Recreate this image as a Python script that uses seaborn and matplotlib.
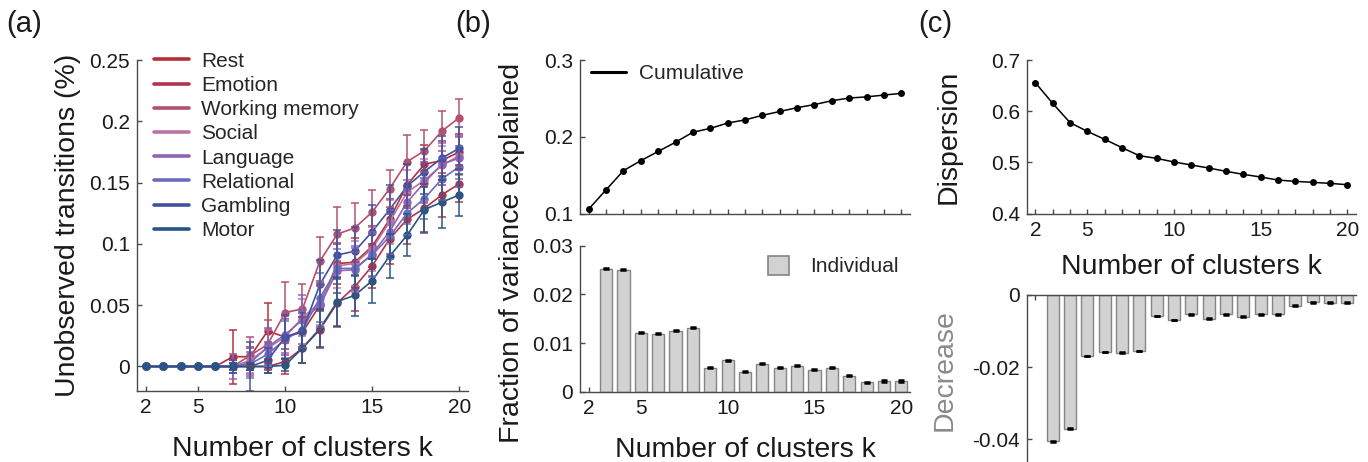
import numpy as np
import pandas as pd
import matplotlib
matplotlib.use("Agg")
import matplotlib.pyplot as plt
from matplotlib.lines import Line2D
from matplotlib.patches import Patch
from matplotlib.ticker import FuncFormatter
import seaborn as sns

# ---------------- data ----------------
ks = list(range(2, 21))

conditions = ["Rest", "Emotion", "Working memory", "Social", "Language",
              "Relational", "Gambling", "Motor"]
cond_colors = ["#b3303a", "#b0344c", "#b2506f", "#b874a6", "#9262b4",
               "#6b6dbc", "#3f52a0", "#275683"]

rest = [0, 0, 0, 0, 0, 0.008, 0.008, 0.029, 0.024, 0.028, 0.05, 0.084, 0.085, 0.098, 0.12, 0.148, 0.165, 0.168, 0.175]
emotion = [0, 0, 0, 0, 0, 0, 0, 0, 0.004, 0.015, 0.03, 0.052, 0.065, 0.082, 0.104, 0.12, 0.129, 0.14, 0.149]
working_memory = [0, 0, 0, 0, 0, 0, 0.009, 0.018, 0.044, 0.047, 0.086, 0.108, 0.113, 0.126, 0.145, 0.167, 0.176, 0.192, 0.203]
social = [0, 0, 0, 0, 0, 0, 0.005, 0.015, 0.024, 0.04, 0.052, 0.082, 0.084, 0.096, 0.118, 0.142, 0.152, 0.164, 0.172]
language = [0, 0, 0, 0, 0, 0, 0.003, 0.016, 0.026, 0.038, 0.05, 0.078, 0.079, 0.092, 0.11, 0.134, 0.15, 0.165, 0.17]
relational = [0, 0, 0, 0, 0, 0, 0.002, 0.01, 0.022, 0.03, 0.056, 0.08, 0.08, 0.091, 0.106, 0.125, 0.137, 0.153, 0.163]
gambling = [0, 0, 0, 0, 0, 0, 0, 0.005, 0.024, 0.029, 0.067, 0.091, 0.094, 0.11, 0.128, 0.147, 0.159, 0.17, 0.178]
motor = [0, 0, 0, 0, 0, 0, 0, 0, 0.001, 0.015, 0.031, 0.053, 0.058, 0.07, 0.09, 0.107, 0.128, 0.134, 0.14]

rest_err = [0, 0, 0, 0, 0, 0.022, 0.008, 0.023, 0.015, 0.012, 0.02, 0.017, 0.02, 0.017, 0.017, 0.017, 0.016, 0.016, 0.015]
emotion_err = [0, 0, 0, 0, 0, 0.003, 0.003, 0.003, 0.01, 0.012, 0.015, 0.02, 0.02, 0.018, 0.02, 0.02, 0.02, 0.018, 0.015]
working_memory_err = [0, 0, 0, 0, 0, 0.005, 0.015, 0.02, 0.025, 0.02, 0.02, 0.022, 0.02, 0.018, 0.015, 0.022, 0.017, 0.016, 0.015]
social_err = [0, 0, 0, 0, 0, 0.005, 0.01, 0.015, 0.015, 0.015, 0.018, 0.018, 0.018, 0.018, 0.018, 0.018, 0.017, 0.016, 0.016]
language_err = [0, 0, 0, 0, 0, 0.01, 0.012, 0.015, 0.015, 0.02, 0.018, 0.018, 0.018, 0.018, 0.018, 0.018, 0.017, 0.017, 0.017]
relational_err = [0, 0, 0, 0, 0, 0.005, 0.01, 0.01, 0.015, 0.015, 0.02, 0.02, 0.018, 0.018, 0.018, 0.018, 0.017, 0.017, 0.017]
gambling_err = [0, 0, 0, 0, 0, 0.005, 0.02, 0.01, 0.018, 0.015, 0.02, 0.02, 0.02, 0.022, 0.02, 0.018, 0.018, 0.018, 0.017]
motor_err = [0, 0, 0, 0, 0, 0.003, 0.003, 0.005, 0.005, 0.012, 0.015, 0.02, 0.017, 0.018, 0.018, 0.017, 0.018, 0.021, 0.017]

series_vals = [rest, emotion, working_memory, social, language, relational, gambling, motor]
series_errs = [rest_err, emotion_err, working_memory_err, social_err, language_err,
               relational_err, gambling_err, motor_err]

cumulative = [0.106, 0.131, 0.156, 0.169, 0.181, 0.193, 0.206, 0.211, 0.218, 0.222,
              0.228, 0.233, 0.238, 0.242, 0.247, 0.2505, 0.252, 0.2544, 0.2566]
individual = [np.nan, 0.0253, 0.0251, 0.0121, 0.0119, 0.0125, 0.0131, 0.0049, 0.0065, 0.0041,
              0.0057, 0.0049, 0.0053, 0.0045, 0.0049, 0.0033, 0.0019, 0.0022, 0.0022]
individual_err = [0, 0.0001, 0.0001, 0.0001, 0.0001, 0.0001, 0.0001, 0.0001, 0.0001, 0.0001,
                  0.0001, 0.0001, 0.0001, 0.0001, 0.0001, 0.0001, 0.0001, 0.0002, 0.0002]

dispersion = [0.6557, 0.6154, 0.5777, 0.5607, 0.5451, 0.5289, 0.5132, 0.508, 0.5009, 0.495,
              0.4892, 0.4827, 0.4768, 0.4716, 0.4657, 0.4631, 0.4612, 0.4592, 0.4566]
decrease = [np.nan, -0.0406, -0.0371, -0.0169, -0.0158, -0.0160, -0.0155, -0.0058, -0.0069, -0.0054,
            -0.0066, -0.0054, -0.0060, -0.0054, -0.0054, -0.0030, -0.0020, -0.0021, -0.0021]
decrease_err = [0, 0.0001, 0.0001, 0.0001, 0.0001, 0.0001, 0.0001, 0.0001, 0.0001, 0.0001,
                0.0001, 0.0001, 0.0001, 0.0001, 0.0001, 0.0001, 0.0001, 0.0002, 0.0002]

label_ticks = [2, 5, 10, 15, 20]

# ---------------- style ----------------
sns.set_theme(style="ticks")
plt.rcParams["font.family"] = ["Liberation Sans", "DejaVu Sans"]
plt.rcParams["axes.unicode_minus"] = False
SPINE = "#4a4a4a"
TXT = "#1a1a1a"
TICK_FS = 15
LAB_FS = 20.5

fig = plt.figure(figsize=(13.68, 4.62), dpi=100)
W, H = 1368.0, 462.0


def add_axes(left, top, right, bottom):
    return fig.add_axes([left / W, 1 - bottom / H, (right - left) / W, (bottom - top) / H])


def style_axes(ax):
    sns.despine(ax=ax)
    for s in ax.spines.values():
        s.set_color(SPINE)
        s.set_linewidth(1.0)
    ax.tick_params(direction="in", length=3.5, width=1.0, color=SPINE,
                   labelsize=TICK_FS, labelcolor=TXT, pad=5)
    ax.yaxis.set_major_formatter(FuncFormatter(lambda v, p: f"{v:g}"))


def int_ticks_with_labels(ax):
    ax.set_xticks(ks)
    ax.set_xticklabels([str(k) if k in label_ticks else "" for k in ks])


# ---------------- panel a ----------------
axa = add_axes(137, 60, 468, 391)
rows = []
for name, vals in zip(conditions, series_vals):
    for k, v in zip(ks, vals):
        rows.append({"k": k, "value": v, "condition": name})
dfa = pd.DataFrame(rows)
sns.lineplot(data=dfa, x="k", y="value", hue="condition", hue_order=conditions,
             palette=cond_colors, marker="o", markersize=6, markeredgewidth=0,
             linewidth=1.2, legend=False, ax=axa)
for vals, errs, c in zip(series_vals, series_errs, cond_colors):
    axa.errorbar(ks, vals, yerr=errs, fmt="none", ecolor=c, elinewidth=1.2,
                 capsize=3, capthick=1.2, alpha=0.9)
axa.set_xlim(1.5, 20.5)
axa.set_ylim(-0.02, 0.25)
style_axes(axa)
axa.set_xticks(label_ticks)
axa.set_yticks([0, 0.05, 0.1, 0.15, 0.2, 0.25])
axa.set_xlabel("Number of clusters k", fontsize=LAB_FS, color=TXT, labelpad=14)
axa.set_ylabel("Unobserved transitions (%)", fontsize=LAB_FS, color=TXT, labelpad=6)
handles = [Line2D([0], [0], color=c, lw=2.6) for c in cond_colors]
axa.legend(handles, conditions, loc="upper left", bbox_to_anchor=(0.05, 1.025),
           frameon=False, fontsize=TICK_FS, handlelength=1.7, handletextpad=0.6,
           labelspacing=0.25, borderpad=0, borderaxespad=0)

# ---------------- panel b ----------------
axb1 = add_axes(580, 60, 910, 213.7)
sns.lineplot(x=ks, y=cumulative, color="black", marker="o", markersize=5,
             markeredgewidth=0, linewidth=1.1, ax=axb1)
axb1.set_xlim(1.5, 20.5)
axb1.set_ylim(0.1, 0.3)
style_axes(axb1)
axb1.set_xticks(ks)
axb1.set_xticklabels([])
axb1.set_yticks([0.1, 0.2, 0.3])
axb1.legend([Line2D([0], [0], color="black", lw=2.2)], ["Cumulative"], loc="upper left",
            bbox_to_anchor=(0.02, 1.0), frameon=False, fontsize=TICK_FS,
            handlelength=1.7, handletextpad=0.6, borderpad=0.2, borderaxespad=0)

axb2 = add_axes(580, 245.7, 910, 391.7)
sns.barplot(x=ks, y=individual, native_scale=True, color="#d2d2d2", saturation=1,
            edgecolor="#858585", linewidth=1.0, width=0.7, errorbar=None, ax=axb2)
axb2.errorbar(ks, individual, yerr=individual_err, fmt="none", ecolor="black",
              elinewidth=1.5, capsize=2.5, capthick=1.8)
axb2.set_xlim(1.5, 20.5)
axb2.set_ylim(0, 0.03)
style_axes(axb2)
axb2.set_xticks(label_ticks)
axb2.set_xticklabels([str(k) for k in label_ticks])
axb2.set_yticks([0, 0.01, 0.02, 0.03])
axb2.set_xlabel("Number of clusters k", fontsize=LAB_FS, color=TXT, labelpad=14)
axb2.legend([Patch(facecolor="#d2d2d2", edgecolor="#858585", linewidth=1.2)], ["Individual"],
            loc="upper right", bbox_to_anchor=(0.965, 0.93), frameon=False, fontsize=TICK_FS,
            handlelength=1.0, handleheight=1.0, handletextpad=1.0, borderpad=0, borderaxespad=0)
fig.text(512 / W, 1 - 253 / H, "Fraction of variance explained", rotation=90,
         fontsize=LAB_FS, color=TXT, ha="center", va="center")

# ---------------- panel c ----------------
axc1 = add_axes(1026.7, 60, 1356, 213.7)
sns.lineplot(x=ks, y=dispersion, color="black", marker="o", markersize=5,
             markeredgewidth=0, linewidth=1.1, ax=axc1)
axc1.set_xlim(1.5, 20.5)
axc1.set_ylim(0.4, 0.7)
style_axes(axc1)
int_ticks_with_labels(axc1)
axc1.set_yticks([0.4, 0.5, 0.6, 0.7])
axc1.set_xlabel("Number of clusters k", fontsize=LAB_FS, color=TXT, labelpad=10)
axc1.set_ylabel("Dispersion", fontsize=LAB_FS, color=TXT)
axc1.yaxis.set_label_coords((962 - 1026.7) / 329.3, 0.5)

axc2 = add_axes(1026.7, 295, 1356, 462)
sns.barplot(x=ks, y=decrease, native_scale=True, color="#d2d2d2", saturation=1,
            edgecolor="#858585", linewidth=1.0, width=0.7, errorbar=None, ax=axc2)
axc2.errorbar(ks, decrease, yerr=decrease_err, fmt="none", ecolor="black",
              elinewidth=1.5, capsize=2.5, capthick=1.8)
axc2.set_xlim(1.5, 20.5)
axc2.set_ylim(-0.0463, 0)
style_axes(axc2)
axc2.spines["bottom"].set_visible(False)
axc2.spines["top"].set_visible(True)
axc2.spines["top"].set_color(SPINE)
axc2.xaxis.tick_top()
axc2.set_xticks(ks)
axc2.set_xticklabels([])
axc2.set_yticks([-0.04, -0.02, 0])
axc2.set_ylabel("Decrease", fontsize=LAB_FS, color="#8a8a8a")
axc2.yaxis.set_label_coords((958 - 1026.7) / 329.3, 0.55)
axc2.set_xlabel("")

# panel letters
for x, s in [(6, "(a)"), (455, "(b)"), (918, "(c)")]:
    fig.text(x / W, 1 - 24 / H, s, fontsize=21, color=TXT, ha="left", va="center")

fig.savefig("out.png", dpi=100)
